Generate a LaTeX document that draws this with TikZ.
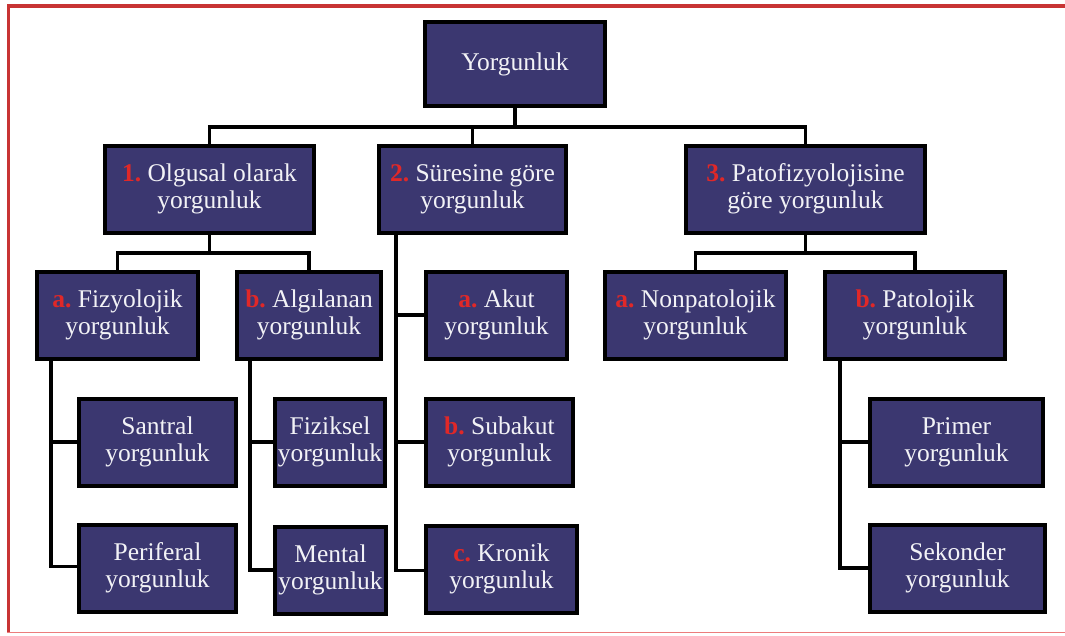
\documentclass[tikz,border=0pt]{standalone}
\usepackage{fontspec}
\setmainfont{Liberation Serif}
\newfontfamily\tnr{Liberation Serif}
\definecolor{boxfill}{HTML}{3B3770}
\definecolor{numred}{HTML}{E02828}
\definecolor{framered}{HTML}{C83434}
\definecolor{framelight}{HTML}{EC7C7C}
\definecolor{txt}{HTML}{F2F2F6}
\newcommand\lbl[1]{\textcolor{numred}{\textbf{#1}}~}
\tikzset{
  box/.style={draw=black, line width=4pt, fill=boxfill, text=txt, align=center,
    inner sep=0pt, minimum height=87pt,
    font=\tnr\fontsize{25.5}{27}\selectfont},
  link/.style={draw=black, line width=3.4pt}
}
\begin{document}
\begin{tikzpicture}[x=1pt,y=-1pt]
\useasboundingbox (0,0) rectangle (1065,635);
% frame
\draw[framered, line width=4pt] (7,6) -- (1065,6);
\draw[framered, line width=3pt] (8.5,4) -- (8.5,633);
\draw[framelight, line width=1.5pt] (7,632.5) -- (1065,632.5);

% nodes
\node[box, minimum width=180pt, minimum height=84pt] (top) at (515,64) {Yorgunluk};
\node[box, minimum width=209pt] (b1) at (209.5,189) {\lbl{1.}Olgusal olarak\\yorgunluk};
\node[box, minimum width=187pt] (b2) at (472.5,189) {\lbl{2.}Süresine göre\\yorgunluk};
\node[box, minimum width=239pt] (b3) at (805.5,189) {\lbl{3.}Patofizyolojisine\\göre yorgunluk};

\node[box, minimum width=161pt] (fiz) at (117.5,315) {\lbl{a.}Fizyolojik\\yorgunluk};
\node[box, minimum width=144pt] (alg) at (309,315) {\lbl{b.}Algılanan\\yorgunluk};
\node[box, minimum width=141pt] (akut) at (496.5,315) {\lbl{a.}Akut\\yorgunluk};
\node[box, minimum width=147pt] (sub) at (499.5,442) {\lbl{b.}Subakut\\yorgunluk};
\node[box, minimum width=151pt] (kro) at (501.5,569) {\lbl{c.}Kronik\\yorgunluk};
\node[box, minimum width=181pt] (non) at (695.5,315) {\lbl{a.}Nonpatolojik\\yorgunluk};
\node[box, minimum width=180pt] (pat) at (915,315) {\lbl{b.}Patolojik\\yorgunluk};
\node[box, minimum width=173pt] (pri) at (956.5,442) {Primer\\yorgunluk};
\node[box, minimum width=175pt] (sek) at (957.5,568) {Sekonder\\yorgunluk};
\node[box, minimum width=157pt] (san) at (157.5,442) {Santral\\yorgunluk};
\node[box, minimum width=157pt] (per) at (157.5,568) {Periferal\\yorgunluk};
\node[box, minimum width=110pt] (fzk) at (330,442) {Fiziksel\\yorgunluk};
\node[box, minimum width=111pt] (men) at (330.5,570) {Mental\\yorgunluk};

% connectors level 0 -> 1
\coordinate (h0) at (515,127);
\draw[link] (top.south) -- (h0);
\draw[link] (h0) -| (b1.north);
\draw[link] (h0) -| (b2.north);
\draw[link] (h0) -| (b3.north);
\draw[link] ([xshift=-1.7pt]b1.north |- h0) -- ([xshift=1.7pt]b3.north |- h0);

% b1 -> fiz, alg
\coordinate (h1) at (209.5,253);
\draw[link] (b1.south) -- (h1);
\draw[link] (h1) -| (fiz.north);
\draw[link] (h1) -| (alg.north);

% b3 -> non, pat
\coordinate (h3) at (805.5,253);
\draw[link] (b3.south) -- (h3);
\draw[link] (h3) -| (non.north);
\draw[link] (h3) -| (pat.north);

% b2 -> akut, sub, kro
\draw[link] ([xshift=19pt]b2.south west) |- (akut.west);
\draw[link] ([xshift=19pt]b2.south west) |- (sub.west);
\draw[link] ([xshift=19pt]b2.south west) |- ([yshift=-1.5pt]kro.west);

% fiz -> san, per
\draw[link] ([xshift=16pt]fiz.south west) |- (san.west);
\draw[link] ([xshift=16pt]fiz.south west) |- ([yshift=1.5pt]per.west);

% alg -> fzk, men
\draw[link] ([xshift=15pt]alg.south west) |- (fzk.west);
\draw[link] ([xshift=15pt]alg.south west) |- (men.west);

% pat -> pri, sek
\draw[link] ([xshift=17pt]pat.south west) |- (pri.west);
\draw[link] ([xshift=17pt]pat.south west) |- (sek.west);
\end{tikzpicture}
\end{document}
